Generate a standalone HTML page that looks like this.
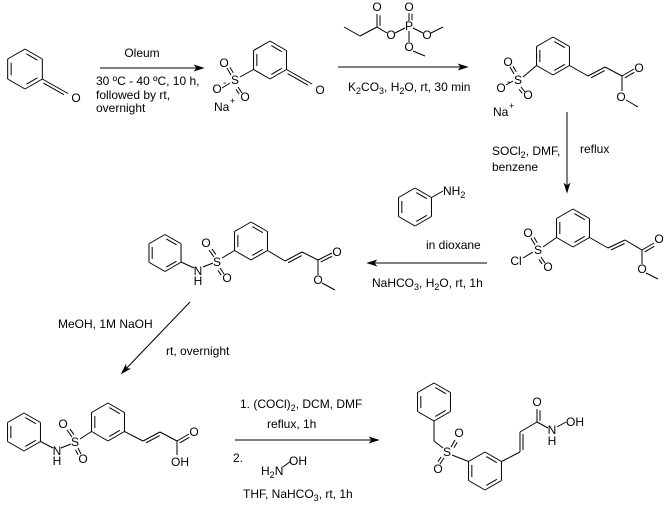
<!DOCTYPE html>
<html><head><meta charset="utf-8"><style>
html,body{margin:0;padding:0;background:#fff;}
svg{display:block;}
text{font-family:"Liberation Sans",Arial,sans-serif;font-size:12px;fill:#000;}
.a{text-anchor:middle;}
</style></head><body>
<svg id="s" width="666" height="507" viewBox="0 0 666 507" xmlns="http://www.w3.org/2000/svg">
<g id="b" stroke="#000" stroke-width="1" fill="none"></g>
<g>
<!-- mol 1 -->
<text class="a" x="76" y="102">O</text>
<text class="a" x="142" y="57">Oleum</text>
<text x="96" y="85">30 ºC - 40 ºC, 10 h,</text>
<text x="96" y="99">followed by rt,</text>
<text x="96" y="112">overnight</text>
<!-- mol 2 -->
<text class="a" x="235" y="84">S</text>
<text class="a" x="224" y="67">O</text>
<text class="a" x="245" y="101">O</text>
<text class="a" x="217" y="93">O</text>
<text x="223" y="86" style="font-size:10px">-</text>
<text x="214" y="111">Na</text><text x="230" y="104" style="font-size:9px">+</text>
<text class="a" x="320" y="94">O</text>
<!-- reagent 2 -->
<text class="a" x="377" y="11">O</text>
<text class="a" x="391" y="39">O</text>
<text class="a" x="409" y="30">P</text>
<text class="a" x="409" y="11">O</text>
<text class="a" x="427" y="39">O</text>
<text class="a" x="409" y="51">O</text>
<text x="348" y="91">K<tspan dy="3" style="font-size:9px">2</tspan><tspan dy="-3">CO</tspan><tspan dy="3" style="font-size:9px">3</tspan><tspan dy="-3">, H</tspan><tspan dy="3" style="font-size:9px">2</tspan><tspan dy="-3">O, rt, 30 min</tspan></text>
<!-- mol 3 -->
<text class="a" x="518" y="84">S</text>
<text class="a" x="508" y="66">O</text>
<text class="a" x="528" y="99">O</text>
<text class="a" x="501" y="92">O</text>
<text x="507" y="85" style="font-size:10px">-</text>
<text x="493" y="116">Na</text><text x="509" y="109" style="font-size:9px">+</text>
<text class="a" x="639" y="72">O</text>
<text class="a" x="621" y="101">O</text>
<text x="492" y="155">SOCl<tspan dy="3" style="font-size:9px">2</tspan><tspan dy="-3">, DMF,</tspan></text>
<text x="492" y="171">benzene</text>
<text x="580" y="153">reflux</text>
<!-- aniline -->
<text x="443" y="195">NH<tspan dy="3" style="font-size:9px">2</tspan></text>
<text x="426" y="249">in dioxane</text>
<text x="372" y="287">NaHCO<tspan dy="3" style="font-size:9px">3</tspan><tspan dy="-3">, H</tspan><tspan dy="3" style="font-size:9px">2</tspan><tspan dy="-3">O, rt, 1h</tspan></text>
<!-- mol 4 -->
<text class="a" x="538" y="254">S</text>
<text class="a" x="528" y="237">O</text>
<text class="a" x="548" y="271">O</text>
<text class="a" x="516" y="265">Cl</text>
<text class="a" x="659" y="243">O</text>
<text class="a" x="642" y="273">O</text>
<!-- mol 5 -->
<text class="a" x="198" y="275">N</text>
<text class="a" x="198" y="285">H</text>
<text class="a" x="217" y="266">S</text>
<text class="a" x="206" y="247">O</text>
<text class="a" x="227" y="282">O</text>
<text class="a" x="337" y="256">O</text>
<text class="a" x="318" y="284">O</text>
<text x="58" y="328">MeOH, 1M NaOH</text>
<text x="166" y="355">rt, overnight</text>
<!-- mol 6 -->
<text class="a" x="57" y="455">N</text>
<text class="a" x="57" y="465">H</text>
<text class="a" x="75" y="446">S</text>
<text class="a" x="63" y="428">O</text>
<text class="a" x="83" y="463">O</text>
<text class="a" x="194" y="436">O</text>
<text class="a" x="180" y="466">OH</text>
<text x="240" y="408">1. (COCl)<tspan dy="3" style="font-size:9px">2</tspan><tspan dy="-3">, DCM, DMF</tspan></text>
<text x="267" y="428">reflux, 1h</text>
<text x="233" y="462">2.</text>
<text x="261" y="475">H<tspan dy="3" style="font-size:9px">2</tspan><tspan dy="-3">N</tspan></text>
<text x="289" y="465">OH</text>
<text x="243" y="498">THF, NaHCO<tspan dy="3" style="font-size:9px">3</tspan><tspan dy="-3">, rt, 1h</tspan></text>
<!-- mol 7 -->
<text class="a" x="447" y="456">S</text>
<text class="a" x="459" y="437">O</text>
<text class="a" x="438" y="473">O</text>
<text class="a" x="537" y="406">O</text>
<text class="a" x="552" y="434">N</text>
<text class="a" x="552" y="445">H</text>
<text x="566" y="426">OH</text>
</g>
</svg>
<script>
var g=document.getElementById('b'),NS='http://www.w3.org/2000/svg';
function L(x1,y1,x2,y2){var l=document.createElementNS(NS,'line');l.setAttribute('x1',x1);l.setAttribute('y1',y1);l.setAttribute('x2',x2);l.setAttribute('y2',y2);g.appendChild(l);}
function D(x1,y1,x2,y2){L(x1,y1,x2,y2);var dx=x2-x1,dy=y2-y1,n=Math.hypot(dx,dy),ox=-dy/n*3,oy=dx/n*3;L(x1+ox+dx*.1,y1+oy+dy*.1,x2+ox-dx*.1,y2+oy-dy*.1);}
function R(cx,cy,r){var v=[];for(var i=0;i<6;i++){var a=(-90+60*i)*Math.PI/180;v.push([cx+r*Math.cos(a),cy+r*Math.sin(a)]);}
for(i=0;i<6;i++){var p=v[i],q=v[(i+1)%6];L(p[0],p[1],q[0],q[1]);}
[0,2,4].forEach(function(i){var p=v[i],q=v[(i+1)%6],k=.8;var a=[cx+(p[0]-cx)*k,cy+(p[1]-cy)*k],b=[cx+(q[0]-cx)*k,cy+(q[1]-cy)*k];var dx=b[0]-a[0],dy=b[1]-a[1];L(a[0]+dx*.1,a[1]+dy*.1,b[0]-dx*.1,b[1]-dy*.1);});}
function A(x1,y1,x2,y2){L(x1,y1,x2,y2);var dx=x2-x1,dy=y2-y1,n=Math.hypot(dx,dy),ux=dx/n,uy=dy/n;var p=document.createElementNS(NS,'polygon');p.setAttribute('points',[x2,y2,x2-ux*8-uy*2.5,y2-uy*8+ux*2.5,x2-ux*6,y2-uy*6,x2-ux*8+uy*2.5,y2-uy*8-ux*2.5].join(','));p.setAttribute('fill','#000');g.appendChild(p);}
// mol1
R(25,69,20);D(42.3,79,68,93.5);
A(100,68,203,68);
// mol2
R(270,60,19);L(240,77,253.5,69.5);D(231,75,227,68);D(238,87,242,93);L(222,88,230,83);D(286.5,69.5,312,84);
// reagent
L(344,27,360,36);L(360,36,377,27);D(377,27,377,14);L(377,27,387,33);L(395,33,405,28);D(409,21,409,13);L(413,28,423,33);L(431,33,443,27);L(409,31,409,42);L(413,51,425,56);
A(338,67,467,67);
// mol3
R(553,56,19);L(523,77,536.5,65.5);D(514,74,510,67);D(521,87,525,92);L(506,85,513,81);
L(569.5,65.5,588,76);D(588,76,605,67);L(605,67,622,76);D(622,76,634,69);L(622,76,622,91);L(626,100,638,107);
A(567,112,567,192);
// aniline
R(415,207,19);L(431.5,197.5,443,191);
A(487,263,368,263);
// mol4
R(573,228,19);L(543,247,556.5,237.5);D(535,245,531,238);D(541,257,545,263);L(523,258,533,252);
L(589.5,237.5,608,248);D(608,248,625,240);L(625,240,642,250);D(642,250,654,243);L(642,250,642,264);L(646,273,658,279);
// mol5
R(165,253,18.5);L(181,262,194,268);L(203,267,213,263);D(214,257,209,250);D(220,268,224,274);L(222,258,234.5,250.5);
R(251,241,19);L(267.5,250.5,285,261);D(285,261,302,252);L(302,252,318,260);D(318,260,332,253);L(318,260,318,275);L(322,283,335,290);
A(190,302,122,373);
// mol6
R(24,432,19);L(40.5,441.5,53,448);L(61,448,71,444);D(72,437,67,430);D(78,448,81,454);L(80,439,91.5,431.5);
R(108,422,19);L(124.5,431.5,143,441);D(143,441,160,432);L(160,432,177,441);D(177,441,189,434);L(177,441,177,455);
A(235,440,378,440);L(283,467,291,461);
// mol7
R(434,402,19);L(434,421,434,441);L(434,441,443,448);D(451,447,455,440);D(444,458,440,464);L(452,455,468.5,461.5);
R(485,471,19);L(501.5,461.5,520,452);D(520,452,520,432);L(520,432,537,422);D(537,422,537,409);L(537,422,548,428);L(557,427,566,422);
</script>
</body></html>
